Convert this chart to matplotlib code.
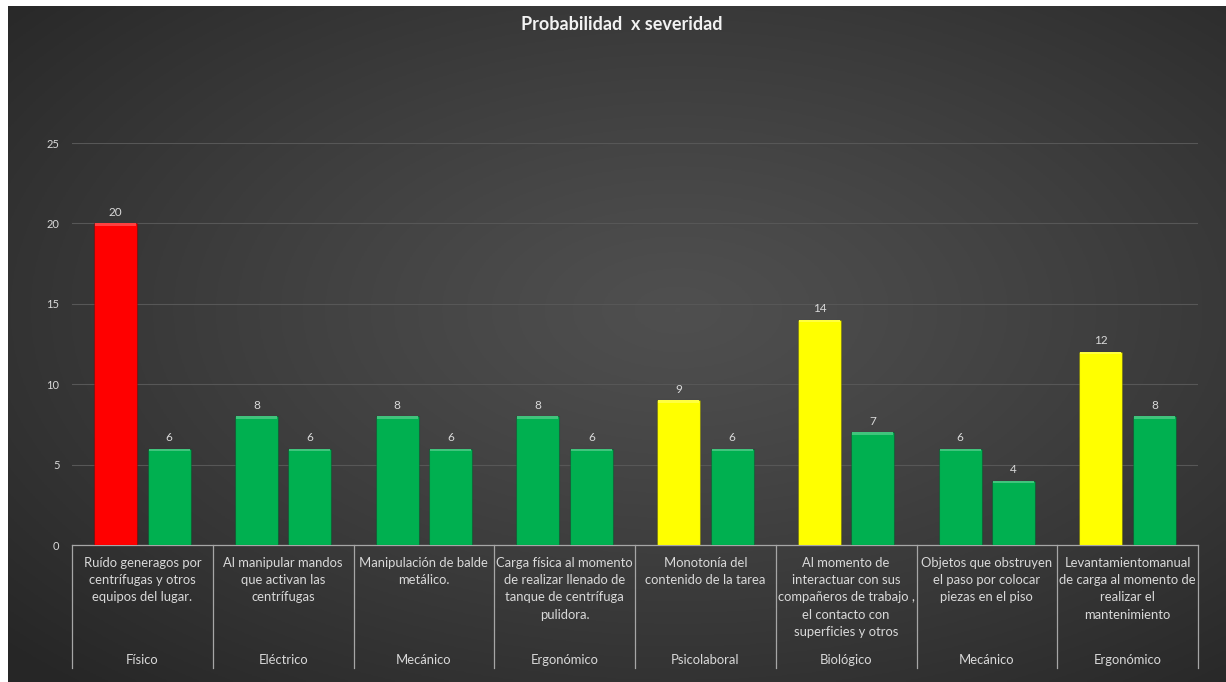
import numpy as np
import matplotlib
matplotlib.use("Agg")
import matplotlib.pyplot as plt
from matplotlib.transforms import blended_transform_factory
from matplotlib.lines import Line2D

# ---- data ----
risk_types = ["Físico", "Eléctrico", "Mecánico", "Ergonómico",
              "Psicolaboral", "Biológico", "Mecánico", "Ergonómico"]
descriptions = [
    "Ruído generagos por\ncentrífugas y otros\nequipos del lugar.",
    "Al manipular mandos\nque activan las\ncentrífugas",
    "Manipulación de balde\nmetálico.",
    "Carga física al momento\nde realizar llenado de\ntanque de centrífuga\npulidora.",
    "Monotonía del\ncontenido de la tarea",
    "Al momento de\ninteractuar con sus\ncompañeros de trabajo ,\nel contacto con\nsuperficies y otros",
    "Objetos que obstruyen\nel paso por colocar\npiezas en el piso",
    "Levantamientomanual\nde carga al momento de\nrealizar el\nmantenimiento",
]
serie_inicial = [20, 8, 8, 8, 9, 14, 6, 12]
serie_residual = [6, 6, 6, 6, 6, 7, 4, 8]
colores_inicial = ["#FF0000", "#00B050", "#00B050", "#00B050",
                   "#FFFF00", "#FFFF00", "#00B050", "#FFFF00"]
color_residual = "#00B050"
y_ticks = [0, 5, 10, 15, 20, 25]
titulo = "Probabilidad  x severidad"

W, H = 1226, 682
FONT = ["Lato", "DejaVu Sans"]
TXT = "#d9d9d9"

fig = plt.figure(figsize=(W / 100, H / 100), dpi=100)
fig.patch.set_facecolor("white")

# background radial gradient
bg = fig.add_axes([8 / W, 0, 1 - 8 / W, 1 - 6 / H])
bg.set_axis_off()
nx, ny = 400, 240
xx, yy = np.meshgrid(np.linspace(0, 1, nx), np.linspace(0, 1, ny))
r = np.sqrt(((xx - 0.55) / 0.75) ** 2 + ((yy - 0.45) / 0.75) ** 2)
r = np.clip(r, 0, 1)
c0, c1 = 0.31, 0.15
val = c0 - (c0 - c1) * r ** 1.2
img = np.dstack([val, val, val])
bg.imshow(img, aspect="auto", extent=[0, 1, 0, 1], origin="upper")
bg.set_xlim(0, 1)
bg.set_ylim(0, 1)

# main axes
left, right = 72 / W, 1198 / W
y0px, y25px = 545, 143
ax = fig.add_axes([left, (H - y0px) / H, right - left, (y0px - y25px) / H])
ax.set_facecolor("none")
n = len(risk_types)
x = np.arange(n)
off = 0.19
bw = 0.305
ax.set_xlim(-0.5, n - 0.5)
ax.set_ylim(0, 25)

ax.yaxis.grid(True, color="#575757", linewidth=0.8)
ax.set_axisbelow(True)
for s in ["top", "right", "left"]:
    ax.spines[s].set_visible(False)
ax.spines["bottom"].set_color("#a6a6a6")
ax.spines["bottom"].set_linewidth(0.9)
ax.set_xticks([])
ax.set_yticks(y_ticks)
ax.tick_params(axis="y", length=0, pad=9, labelsize=8, labelcolor=TXT)
for lab in ax.get_yticklabels():
    lab.set_fontfamily(FONT)

b1 = ax.bar(x - off, serie_inicial, width=bw, color=colores_inicial,
            edgecolor="#00000030", linewidth=0.8, zorder=3)
b2 = ax.bar(x + off, serie_residual, width=bw, color=color_residual,
            edgecolor="#00000030", linewidth=0.8, zorder=3)

# subtle bevel highlight on top of bars
def lighten(c, f=0.25):
    rgb = np.array(matplotlib.colors.to_rgb(c))
    return tuple(rgb + (1 - rgb) * f)

for bars, cols in ((b1, colores_inicial), (b2, [color_residual] * n)):
    for b, c in zip(bars, cols):
        h = b.get_height()
        ax.bar(b.get_x() + b.get_width() / 2, 0.14, bottom=h - 0.14,
               width=b.get_width() * 0.96, color=lighten(c), linewidth=0,
               zorder=4)

for bars in (b1, b2):
    ax.bar_label(bars, padding=4, color=TXT, fontsize=8.5, family=FONT)

# category labels (two-level axis)
tr = blended_transform_factory(ax.transData, fig.transFigure)
for i in range(n):
    ax.text(i, (H - 557) / H, descriptions[i], transform=tr, ha="center",
            va="top", color=TXT, fontsize=9.4, family=FONT,
            linespacing=1.52, clip_on=False)
    ax.text(i, (H - 660) / H, risk_types[i], transform=tr, ha="center",
            va="center", color=TXT, fontsize=9.4, family=FONT, clip_on=False)

sep_bottom = -(668 - 545) / (y0px - y25px)
trx = blended_transform_factory(ax.transData, ax.transAxes)
for k in range(n + 1):
    ax.add_line(Line2D([k - 0.5, k - 0.5], [0, sep_bottom], transform=trx,
                       color="#a6a6a6", linewidth=0.9, clip_on=False))

fig.text(622 / W, (H - 25) / H, titulo, ha="center", va="center",
         color="#f2f2f2", fontsize=13, fontweight="bold", family=FONT)

fig.savefig("out.png", dpi=100, facecolor=fig.get_facecolor())
